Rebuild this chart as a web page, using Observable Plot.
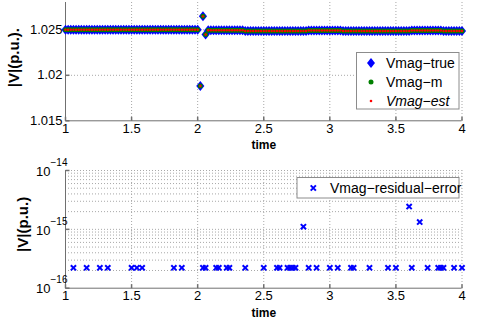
<!DOCTYPE html>
<html>
<head>
<meta charset="utf-8">
<script src="https://cdn.jsdelivr.net/npm/d3@7"></script>
<script src="https://cdn.jsdelivr.net/npm/@observablehq/plot@0.6"></script>
<style>
  html, body { margin: 0; padding: 0; background: #fff; }
  #chart { width: 483px; height: 326px; overflow: hidden; }
  svg { display: block; overflow: visible; }
</style>
</head>
<body>
<div id="chart"></div>
<script>
// ---------- data ----------
// sampling grid of the simulation (step 0.02 s from 1 to 4)
const timeStart = 1, timeStep = 0.02, nSamples = 151;
const time = d3.range(nSamples).map(i => +(timeStart + timeStep * i).toFixed(2));

const vmagTrue = [
  1.025,1.025,1.025,1.025,1.025,1.025,1.025,1.025,1.025,1.025,
  1.025,1.025,1.025,1.025,1.025,1.025,1.025,1.025,1.025,1.025,
  1.025,1.025,1.025,1.025,1.025,1.025,1.025,1.025,1.025,1.025,
  1.025,1.025,1.025,1.025,1.025,1.025,1.025,1.025,1.025,1.025,
  1.025,1.025,1.025,1.025,1.025,1.025,1.025,1.025,1.025,1.025,
  1.025,
  1.01883,1.02648,1.02449,
  1.02495,1.02495,1.02495,1.02495,1.02495,1.02495,1.02495,1.02495,1.02495,1.02495,1.02495,1.02495,1.02495,1.02495,
  1.02487,1.02487,1.02487,1.02487,1.02487,1.02487,1.02487,1.02487,1.02487,1.02487,1.02487,1.02487,
  1.02487,1.02487,1.02487,1.02487,1.02487,1.02487,1.02487,1.02487,1.02487,1.02487,1.02487,1.02487,
  1.02492,1.02492,1.02492,1.02492,1.02492,1.02492,1.02492,1.02492,1.02492,1.02492,1.02492,1.02492,1.02492,
  1.02487,1.02487,1.02487,1.02487,1.02487,1.02487,1.02487,1.02487,1.02487,1.02487,1.02487,1.02487,1.02487,
  1.02487,1.02487,1.02487,1.02487,1.02487,1.02487,1.02487,1.02487,1.02487,1.02487,1.02487,1.02487,1.02487,
  1.02493,1.02493,1.02493,1.02493,1.02493,1.02493,1.02493,1.02493,1.02493,1.02493,1.02493,1.02493,
  1.02487,1.02487,1.02487,1.02487,1.02487,1.02487,1.02487,1.02487
];
// measured and estimated magnitudes coincide with the true values on the picture
const vmagMeas = vmagTrue.slice();
const vmagEst = vmagTrue.slice();

const resTime = [1.06,1.16,1.26,1.32,1.50,1.54,1.58,1.82,1.88,2.04,2.06,2.14,2.16,2.22,2.24,2.36,
  2.50,2.60,2.62,2.68,2.70,2.72,2.74,2.80,2.84,2.90,3.00,3.06,3.16,3.18,3.30,3.44,3.50,3.60,3.62,
  3.68,3.74,3.82,3.84,3.86,3.94,4.00];
const resValue = [2.22e-16,2.22e-16,2.22e-16,2.22e-16,2.22e-16,2.22e-16,2.22e-16,2.22e-16,2.22e-16,
  2.22e-16,2.22e-16,2.22e-16,2.22e-16,2.22e-16,2.22e-16,2.22e-16,2.22e-16,2.22e-16,2.22e-16,2.22e-16,
  2.22e-16,2.22e-16,2.22e-16,1.11e-15,2.22e-16,2.22e-16,2.22e-16,2.22e-16,2.22e-16,2.22e-16,2.22e-16,
  2.22e-16,2.22e-16,2.44e-15,2.22e-16,1.33e-15,2.22e-16,2.22e-16,2.22e-16,2.22e-16,2.22e-16,2.22e-16];

const xTicks = [1, 1.5, 2, 2.5, 3, 3.5, 4];
const xTickLabels = ["1", "1.5", "2", "2.5", "3", "3.5", "4"];
const yTicksTop = [1.015, 1.02, 1.025];
const yTickLabelsTop = ["1.015", "1.02", "1.025"];
const yTicksLog = [1e-16, 1e-15, 1e-14];
const yTickExponents = ["\u221216", "\u221215", "\u221214"];
const yMinorLog = [2e-16,3e-16,4e-16,5e-16,6e-16,7e-16,8e-16,9e-16,
                   2e-15,3e-15,4e-15,5e-15,6e-15,7e-15,8e-15,9e-15];

const seriesNames = ["Vmag\u2212true", "Vmag\u2212m", "Vmag\u2212est"];
const residualName = "Vmag\u2212residual\u2212error";

// ---------- styling ----------
const FONT = "'Liberation Sans', Arial, Helvetica, sans-serif";
const BLUE = "#0000ff", GREEN = "#008000", RED = "#ff0000";
const GRID = {stroke: "#a8a8a8", strokeOpacity: 1, strokeDasharray: "1,2", strokeWidth: 1};
const AXIS = "#707070";

const diamondSym = {
  draw(ctx, size) {
    const r = Math.sqrt(size / Math.PI);
    const w = r * 0.85, h = r * 1.05;
    ctx.moveTo(0, -h); ctx.lineTo(w, 0); ctx.lineTo(0, h); ctx.lineTo(-w, 0); ctx.closePath();
  }
};
const crossSym = {
  draw(ctx, size) {
    const s = Math.sqrt(size / Math.PI);
    ctx.moveTo(-s, -s); ctx.lineTo(s, s); ctx.moveTo(s, -s); ctx.lineTo(-s, s);
  }
};
const tickUp = { draw(ctx) { ctx.moveTo(0, 0); ctx.lineTo(0, -4); } };
const tickRight = { draw(ctx) { ctx.moveTo(0, 0); ctx.lineTo(4, 0); } };

const topData = time.map((t, i) => ({t, vt: vmagTrue[i], vm: vmagMeas[i], ve: vmagEst[i]}));
const resData = resTime.map((t, i) => ({t, v: resValue[i]}));

// ---------- top panel ----------
const topPanel = Plot.plot({
  width: 483, height: 155,
  marginLeft: 65, marginRight: 21.5, marginTop: 2, marginBottom: 34.7,
  style: {fontFamily: FONT, fontSize: "13px", color: "#000", background: "#fff", overflow: "visible"},
  x: {domain: [1, 4], axis: null},
  y: {domain: [1.015, 1.028], axis: null},
  marks: [
    Plot.gridX(xTicks.slice(1), GRID),
    Plot.gridY(yTicksTop.slice(1), GRID),
    Plot.ruleY([1.015], {stroke: AXIS}),
    Plot.ruleX([1], {stroke: AXIS}),
    Plot.dot(xTicks, {x: d => d, y: () => 1.015, symbol: tickUp, stroke: AXIS, r: 1}),
    Plot.dot(yTicksTop, {x: () => 1, y: d => d, symbol: tickRight, stroke: AXIS, r: 1}),
    Plot.axisX({ticks: xTicks, tickFormat: (d, i) => xTickLabels[i], tickSize: 0, tickPadding: 3, fontSize: 13, label: null}),
    Plot.axisY({ticks: yTicksTop, tickFormat: (d, i) => yTickLabelsTop[i], tickSize: 0, tickPadding: 3, fontSize: 13, label: null}),
    Plot.dot(topData, {x: "t", y: "vt", symbol: diamondSym, r: 4.8, fill: BLUE, stroke: "none"}),
    Plot.dot(topData, {x: "t", y: "vm", r: 2.5, fill: GREEN, stroke: "none"}),
    Plot.dot(topData, {x: "t", y: "ve", r: 1.2, fill: RED, stroke: "none"}),
    Plot.text(["time"], {frameAnchor: "bottom", dy: 24, text: d => d, fontWeight: "bold", fontSize: 12, lineAnchor: "middle", textAnchor: "middle"}),
    Plot.text(["|V|(p.u.)."], {frameAnchor: "left", dx: -51, dy: -4, rotate: -90, text: d => d, fontWeight: "bold", fontSize: 15, lineAnchor: "middle", textAnchor: "middle"})
  ]
});

// legend (top)
{
  const g = d3.select(topPanel).append("g").attr("font-family", FONT).attr("font-size", 14).attr("text-anchor", "start");
  g.append("rect").attr("x", 356.5).attr("y", 52.5).attr("width", 102.5).attr("height", 56.5)
    .attr("fill", "#fff").attr("stroke", "#8c8c8c");
  const rows = [63, 82, 101];
  g.append("path").attr("transform", `translate(371,${rows[0]})`).attr("d", "M0,-4.9L4,0L0,4.9L-4,0Z").attr("fill", BLUE);
  g.append("circle").attr("cx", 371).attr("cy", rows[1]).attr("r", 2.5).attr("fill", GREEN);
  g.append("circle").attr("cx", 371).attr("cy", rows[2]).attr("r", 1.3).attr("fill", RED);
  seriesNames.forEach((name, i) => {
    g.append("text").attr("x", 386).attr("y", rows[i]).attr("dy", "0.35em").attr("text-anchor", "start")
      .attr("font-style", i === 2 ? "italic" : "normal").text(name);
  });
}

// ---------- bottom panel ----------
const bottomPanel = Plot.plot({
  width: 483, height: 171,
  marginLeft: 65, marginRight: 21.5, marginTop: 15, marginBottom: 38.3,
  style: {fontFamily: FONT, fontSize: "13px", color: "#000", background: "transparent", overflow: "visible"},
  x: {domain: [1, 4], axis: null},
  y: {type: "log", domain: [1e-16, 1e-14], axis: null},
  marks: [
    Plot.gridX(xTicks.slice(1), GRID),
    Plot.gridY(yMinorLog, GRID),
    Plot.gridY(yTicksLog.slice(1), GRID),
    Plot.ruleY([1e-16], {stroke: AXIS}),
    Plot.ruleX([1], {stroke: AXIS}),
    Plot.dot(xTicks, {x: d => d, y: () => 1e-16, symbol: tickUp, stroke: AXIS, r: 1}),
    Plot.dot(yTicksLog, {x: () => 1, y: d => d, symbol: tickRight, stroke: AXIS, r: 1}),
    Plot.axisX({ticks: xTicks, tickFormat: (d, i) => xTickLabels[i], tickSize: 0, tickPadding: 3, fontSize: 13, label: null}),
    Plot.text(yTicksLog, {y: d => d, frameAnchor: "left", dx: -15, dy: 1, text: () => "10", textAnchor: "end", fontSize: 13, lineAnchor: "middle"}),
    Plot.text(yTicksLog, {y: d => d, frameAnchor: "left", dx: -15, dy: -8, text: (d, i) => yTickExponents[i], textAnchor: "start", fontSize: 10, lineAnchor: "middle"}),
    Plot.dot(resData, {x: "t", y: "v", symbol: crossSym, r: 2.6, stroke: BLUE, strokeWidth: 2}),
    Plot.text(["time"], {frameAnchor: "bottom", dy: 25, text: d => d, fontWeight: "bold", fontSize: 12, lineAnchor: "middle", textAnchor: "middle"}),
    Plot.text(["|V|(p.u.)"], {frameAnchor: "left", dx: -42, dy: -5, rotate: -90, text: d => d, fontWeight: "bold", fontSize: 15, lineAnchor: "middle", textAnchor: "middle"})
  ]
});

// legend (bottom)
{
  const g = d3.select(bottomPanel).append("g").attr("font-family", FONT).attr("font-size", 14).attr("text-anchor", "start");
  g.append("rect").attr("x", 297).attr("y", 14.5 + 8).attr("width", 162).attr("height", 20.5)
    .attr("fill", "#fff").attr("stroke", "#8c8c8c");
  g.append("path").attr("transform", `translate(313.3,${25 + 8})`).attr("d", "M-2.6,-2.6L2.6,2.6M2.6,-2.6L-2.6,2.6")
    .attr("stroke", BLUE).attr("stroke-width", 2).attr("fill", "none");
  g.append("text").attr("x", 330).attr("y", 25 + 8).attr("dy", "0.35em").attr("text-anchor", "start").text(residualName);
}

const chart = document.getElementById("chart");
chart.appendChild(topPanel);
chart.appendChild(bottomPanel);
</script>
</body>
</html>
